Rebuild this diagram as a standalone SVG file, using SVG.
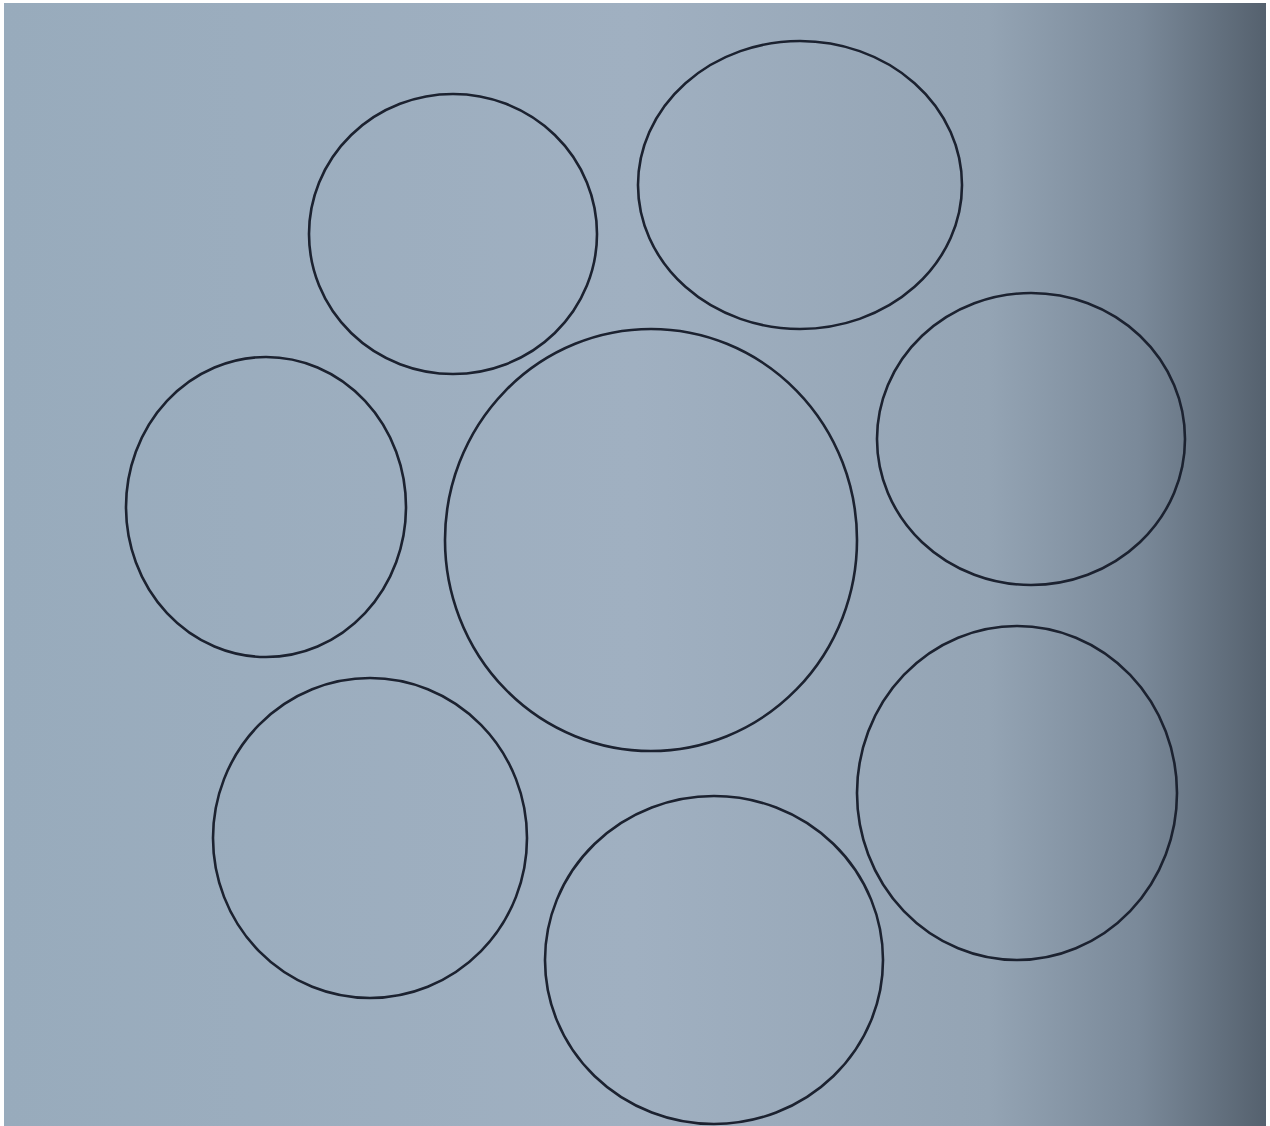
<svg xmlns="http://www.w3.org/2000/svg" width="1270" height="1126" viewBox="0 0 1270 1126">
<defs>
<linearGradient id="bg" x1="0" y1="0" x2="1" y2="0">
<stop offset="0" stop-color="#98abbc"/>
<stop offset="0.5" stop-color="#a0b0c1"/>
<stop offset="0.78" stop-color="#94a4b4"/>
<stop offset="0.9" stop-color="#7a8999"/>
<stop offset="1" stop-color="#55616e"/>
</linearGradient>
<style>.c{fill:none;stroke:#1c2230;stroke-width:2.6}</style>
</defs>
<rect width="1270" height="1126" fill="#ffffff"/>
<rect x="4" y="3" width="1262" height="1123" fill="url(#bg)"/>
<g id="circle-top-left"><ellipse class="c" cx="453" cy="234" rx="144" ry="140"/></g>
<g id="circle-top-right"><ellipse class="c" cx="800" cy="185" rx="162" ry="144"/></g>
<g id="circle-right"><ellipse class="c" cx="1031" cy="439" rx="154" ry="146"/></g>
<g id="circle-left"><ellipse class="c" cx="266" cy="507" rx="140" ry="150"/></g>
<g id="circle-center"><ellipse class="c" cx="651" cy="540" rx="206" ry="211"/></g>
<g id="circle-bottom-left"><ellipse class="c" cx="370" cy="838" rx="157" ry="160"/></g>
<g id="circle-bottom"><ellipse class="c" cx="714" cy="960" rx="169" ry="164"/></g>
<g id="circle-bottom-right"><ellipse class="c" cx="1017" cy="793" rx="160" ry="167"/></g>
<g id="connectors"></g>
</svg>
